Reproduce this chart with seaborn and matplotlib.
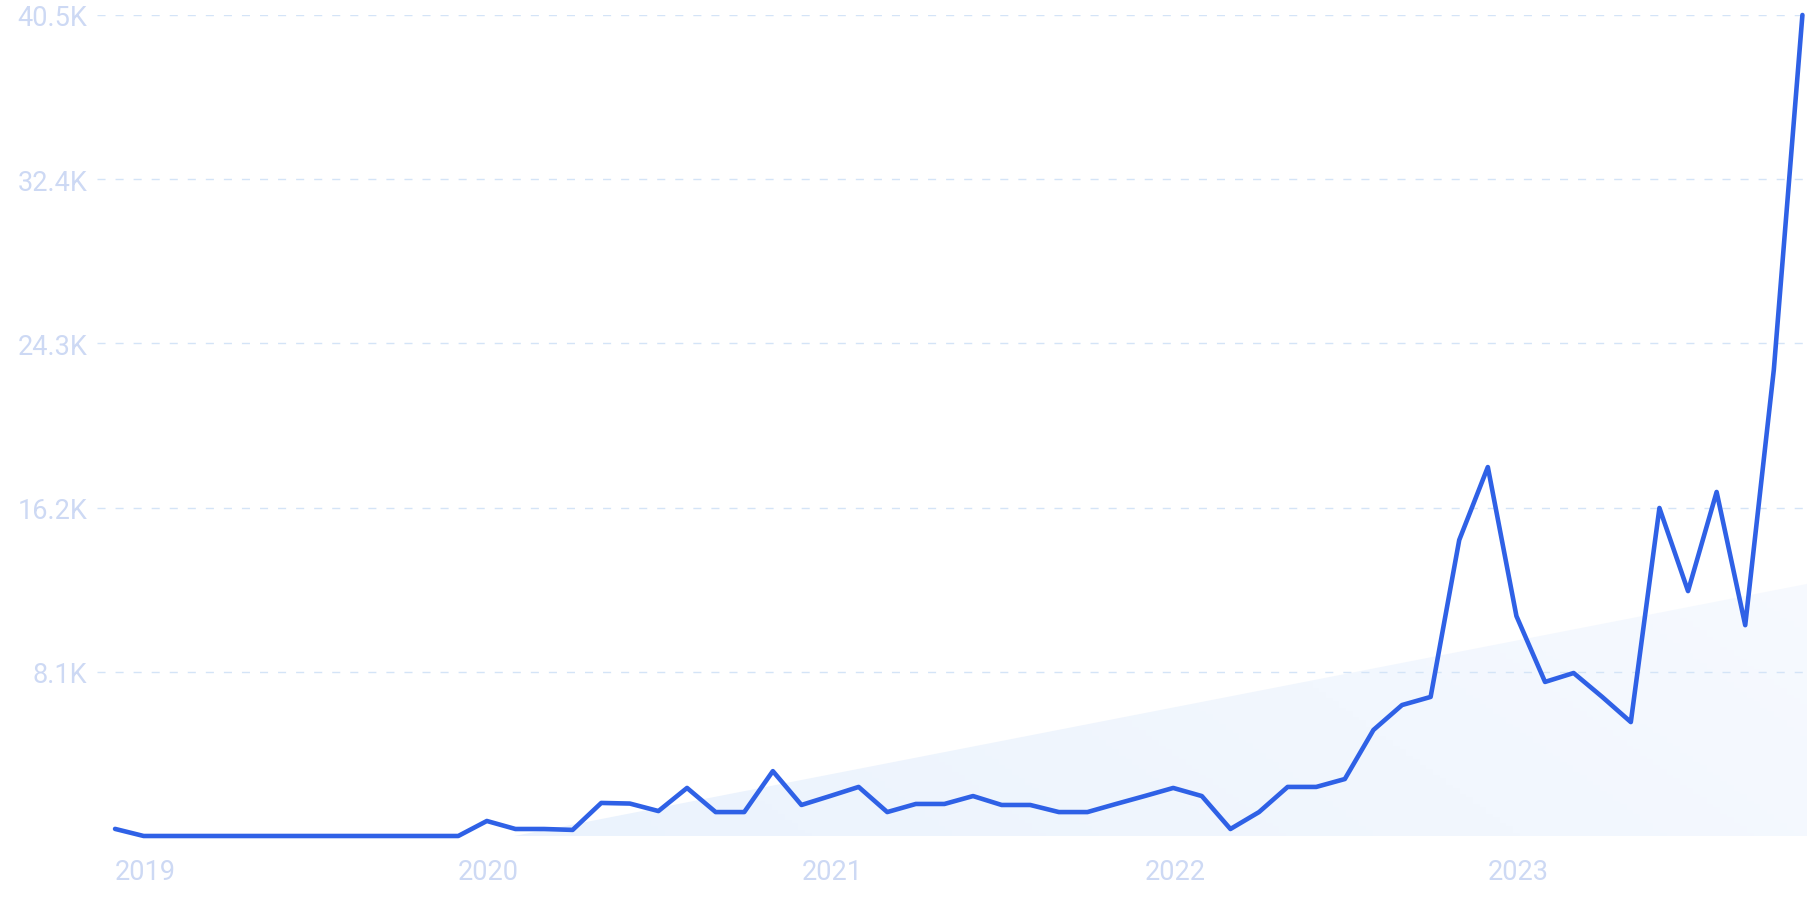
import pandas as pd
import seaborn as sns
import matplotlib.pyplot as plt
import numpy as np
from matplotlib.patches import Polygon
from matplotlib.colors import LinearSegmentedColormap

# Monthly search volume, Jan 2019 .. Dec 2023
months = pd.date_range('2019-01-01', periods=60, freq='MS').strftime('%Y-%m').tolist()
volume = [
    350, 0, 0, 0, 0, 0, 0, 0, 0, 0, 0, 0,                                   # 2019
    0, 740, 345, 345, 300, 1630, 1600, 1230, 2370, 1180, 1180, 3200,        # 2020
    1530, 1970, 2420, 1180, 1580, 1580, 1970, 1530, 1530, 1180, 1180, 1580, # 2021
    1970, 2370, 1970, 345, 1180, 2420, 2420, 2810, 5230, 6460, 6860, 14600, # 2022
    18200, 10850, 7600, 8040, 6860, 5620, 16180, 12080, 16970, 10400, 23000, 40500,  # 2023
]
year_labels = ['2019', '2020', '2021', '2022', '2023']
y_ticks = [8100, 16200, 24300, 32400, 40500]
y_labels = ['8.1K', '16.2K', '24.3K', '32.4K', '40.5K']

df = pd.DataFrame({'month': months, 'volume': volume})
df['idx'] = range(len(df))

sns.set_style('white')
plt.rcParams['font.family'] = ['Roboto', 'DejaVu Sans']

line_color = '#2F61E6'
label_color = '#CDD9F4'
grid_color = '#D4E4F7'

fig = plt.figure(figsize=(18.07, 9.03), dpi=100)
ax = fig.add_axes([0.0537, 0.0731, 0.9463, 0.9092])

# light gradient wedge in the background
grad = np.linspace(0, 1, 256)
gx, gy = np.meshgrid(grad, grad[::-1])
cmap = LinearSegmentedColormap.from_list('wedge', ['#E8F1FD', '#FCFDFF'])
img = ax.imshow(0.6 * gx + 0.4 * gy, cmap=cmap, extent=[0, 1, 0, 1],
                transform=ax.transAxes, aspect='auto', zorder=0)
wedge = Polygon([[0.244, 0], [1, 0.307], [1, 0]], closed=True,
                transform=ax.transAxes, facecolor='none', edgecolor='none')
ax.add_patch(wedge)
img.set_clip_path(wedge)

sns.lineplot(data=df, x='idx', y='volume', ax=ax, color=line_color,
             linewidth=3.3, zorder=3, clip_on=False)
ax.lines[-1].set_solid_joinstyle('round')

ax.set_xlim(-0.63, 59.16)
ax.set_ylim(0, 40500)

ax.set_yticks(y_ticks)
ax.set_yticklabels(y_labels)
ax.set_xticks([0, 12, 24, 36, 48])
ax.set_xticklabels(year_labels, ha='left')

ax.tick_params(axis='both', length=0, labelsize=19.5, labelcolor=label_color)
ax.tick_params(axis='y', pad=7)
ax.tick_params(axis='x', pad=16)

ax.yaxis.grid(True, color=grid_color, linestyle=(0, (5.8, 7.2)), linewidth=1.0)
ax.xaxis.grid(False)
ax.set_axisbelow(True)
for s in ax.spines.values():
    s.set_visible(False)
ax.set_xlabel('')
ax.set_ylabel('')
ax.set_facecolor('none')

fig.savefig('out.png', dpi=100)
